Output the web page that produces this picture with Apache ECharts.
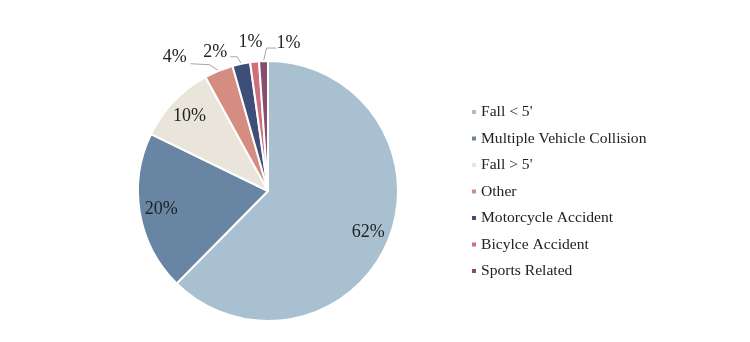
<!DOCTYPE html>
<html>
<head>
<meta charset="utf-8">
<script src="https://cdn.jsdelivr.net/npm/echarts@6/dist/echarts.min.js"></script>
<style>html,body{margin:0;padding:0;background:#fff;}#c{width:750px;height:342px;}</style>
</head>
<body>
<div id="c"></div>
<script>
const categories = ["Fall < 5'", "Multiple Vehicle Collision", "Fall > 5'", "Other", "Motorcycle Accident", "Bicylce Accident", "Sports Related"];
const values = [62.4, 19.8, 9.8, 3.6, 2.2, 1.1, 1.1];
const colors = ['#a8c0d0', '#6885a3', '#e9e5db', '#d48d80', '#3e4e78', '#cf6e7d', '#8a4e6c'];
const insideLabelIdx = [0, 1, 2];

const FONT = 'Liberation Serif';
const R = 130;
const center = [268, 191];

// outside-label placement relative to the slice's edge anchor:
// [label dx, label dy, elbow dx, elbow dy, end dx, end dy] (null = no leader line)
const outsideLabelOffsets = {
  3: [-44, -13, -9, -6, -28, -7],
  4: [-26, -12, -4, -7, -11, -7],
  5: [-4, -19, null],
  6: [25, -18, 3, -13, 13, -13]
};

const chart = echarts.init(document.getElementById('c'), null, {renderer: 'canvas'});

const mainData = categories.map((n, i) => ({
  name: n, value: values[i],
  itemStyle: {color: colors[i]},
  label: {show: insideLabelIdx.indexOf(i) < 0},
  labelLine: {show: insideLabelIdx.indexOf(i) < 0 && !(outsideLabelOffsets[i] && outsideLabelOffsets[i][2] === null)}
}));
const ringData = categories.map((n, i) => ({
  name: n, value: values[i],
  label: {show: insideLabelIdx.indexOf(i) >= 0}
}));

chart.setOption({
  animation: false,
  backgroundColor: '#fff',
  legend: {
    orient: 'vertical',
    left: 465, top: 99,
    data: categories,
    icon: 'rect',
    itemWidth: 6, itemHeight: 6,
    itemGap: 10.5,
    textStyle: {fontFamily: FONT, fontSize: 15.6, color: '#222', padding: [0, 0, 0, -1]}
  },
  series: [
    {
      type: 'pie',
      center: center,
      radius: R,
      startAngle: 90,
      clockwise: true,
      percentPrecision: 0,
      avoidLabelOverlap: false,
      itemStyle: {borderColor: '#fff', borderWidth: 2},
      label: {
        position: 'outside', formatter: '{d}%',
        fontFamily: FONT, fontSize: 18, color: '#222'
      },
      labelLine: {length: 10, length2: 14, lineStyle: {color: '#a6a6a6', width: 1}},
      labelLayout: function (p) {
        const o = outsideLabelOffsets[p.dataIndex];
        if (!o || !p.labelLinePoints) return {};
        const a = p.labelLinePoints[0];
        const res = {x: a[0] + o[0], y: a[1] + o[1], align: 'center', verticalAlign: 'middle'};
        if (o[2] !== null) {
          res.labelLinePoints = [[a[0], a[1]], [a[0] + o[2], a[1] + o[3]], [a[0] + o[4], a[1] + o[5]]];
        }
        return res;
      },
      emphasis: {disabled: true},
      data: mainData
    },
    {
      type: 'pie',
      center: center,
      radius: [R * 0.62, R],
      startAngle: 90,
      clockwise: true,
      percentPrecision: 0,
      silent: true,
      itemStyle: {color: 'rgba(0,0,0,0)', borderWidth: 0},
      label: {position: 'inside', formatter: '{d}%', fontFamily: FONT, fontSize: 18, color: '#222'},
      labelLine: {show: false},
      emphasis: {disabled: true},
      tooltip: {show: false},
      data: ringData
    }
  ]
});
</script>
</body>
</html>
